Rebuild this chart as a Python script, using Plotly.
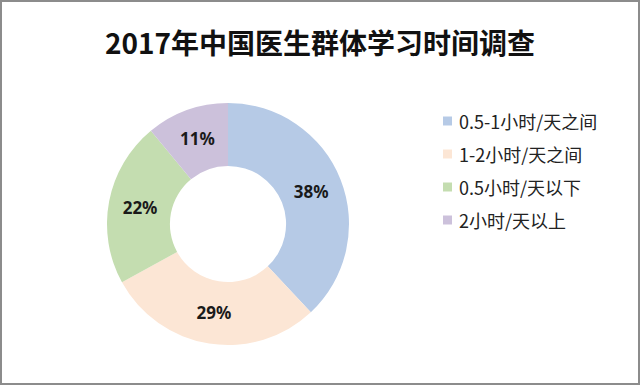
import plotly.graph_objects as go

labels = ["0.5-1小时/天之间", "1-2小时/天之间", "0.5小时/天以下", "2小时/天以上"]
values = [38, 29, 22, 11]
colors = ["#b6cae6", "#fce6d5", "#c4ddb0", "#ccc1db"]
title = "2017年中国医生群体学习时间调查"

W, H = 640, 385
cx, cy, r = 228, 224, 121

fig = go.Figure(go.Pie(
    labels=labels, values=values, hole=0.48, sort=False, direction="clockwise",
    rotation=0,
    marker=dict(colors=colors, line=dict(width=0)),
    texttemplate="<b>%{percent:.0%}</b>",
    textposition="inside", insidetextorientation="horizontal",
    textfont=dict(family="Noto Sans, DejaVu Sans", size=17, color="#1a1a1a"),
    domain=dict(x=[(cx - r) / W, (cx + r) / W], y=[(H - cy - r) / H, (H - cy + r) / H]),
    showlegend=False,
))

annotations = [dict(text="<b>" + title + "</b>", x=0.5, y=1 - 42 / H, xref="paper", yref="paper",
                    xanchor="center", yanchor="middle", showarrow=False,
                    font=dict(family="Noto Sans CJK SC", size=28, color="#111111"))]
shapes = [dict(type="rect", xref="paper", yref="paper", x0=1 / W, x1=1 - 1 / W, y0=1 / H, y1=1 - 1 / H,
               line=dict(color="#8c8c8c", width=2))]

# legend (manual, for Excel-like spacing)
leg_x, leg_y0, leg_dy, sq = 443, 121, 33, 9
for i, (lab, col) in enumerate(zip(labels, colors)):
    yc = leg_y0 + i * leg_dy
    shapes.append(dict(type="rect", xref="paper", yref="paper",
                       x0=leg_x / W, x1=(leg_x + sq) / W,
                       y0=1 - (yc + sq / 2) / H, y1=1 - (yc - sq / 2) / H,
                       fillcolor=col, line=dict(width=0)))
    annotations.append(dict(text=lab, x=(leg_x + sq + 5) / W, y=1 - yc / H, xref="paper", yref="paper",
                            xanchor="left", yanchor="middle", showarrow=False,
                            font=dict(family="Noto Sans CJK SC", size=18, color="#222222")))

fig.update_layout(
    width=W, height=H,
    margin=dict(l=0, r=0, t=0, b=0),
    paper_bgcolor="white",
    font=dict(family="Noto Sans CJK SC"),
    annotations=annotations,
    shapes=shapes,
)

fig.write_html("out.html", config={"displayModeBar": False},
               post_script="document.body.style.margin='0';")
